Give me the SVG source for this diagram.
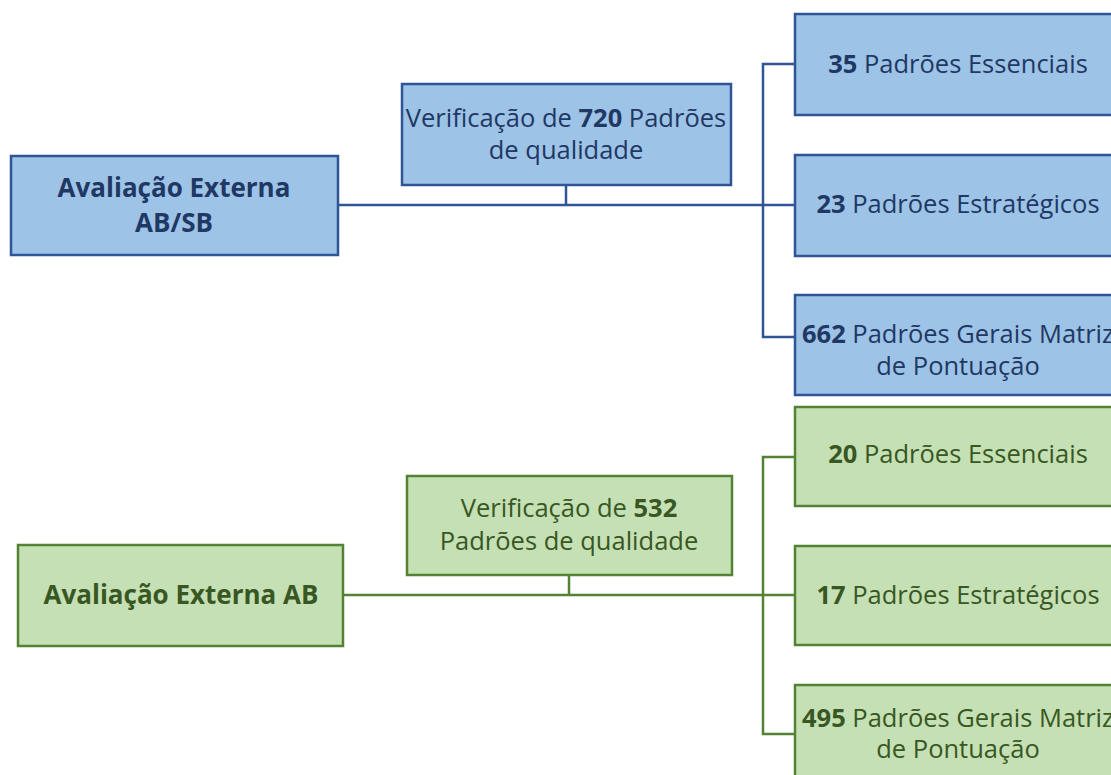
<svg xmlns="http://www.w3.org/2000/svg" width="1111" height="775" viewBox="0 0 1111 775">
<style>
text{font-family:"Open Sans","Liberation Sans",sans-serif;text-anchor:middle;font-size:25.5px}
.b rect{fill:#9dc3e6;stroke:#2f5597;stroke-width:2.5}
.g rect{fill:#c5e0b4;stroke:#548235;stroke-width:2.5}
.b text{fill:#1f3864}
.g text{fill:#385723}
.bold{font-weight:bold}
.main{font-size:26px;font-weight:bold}
.cb{fill:none;stroke:#2f5597;stroke-width:2.5}
.cg{fill:none;stroke:#548235;stroke-width:2.5}
</style>
<rect width="1111" height="775" fill="#fff"/>
<g id="connectors">
<path class="cb" d="M338 205H763M566 185V205M795 64H763V337H795M763 205H795"/>
<path class="cg" d="M343 595H763M569 575V595M795 457H763V734H795M763 595H795"/>
</g>
<g id="n1" class="b"><rect x="11" y="156" width="327" height="99"/>
<text class="main" x="174" y="197">Avaliação Externa</text><text class="main" x="174" y="232">AB/SB</text></g>
<g id="n2" class="b"><rect x="402" y="84" width="329" height="101"/>
<text x="566" y="127">Verificação de <tspan class="bold">720</tspan> Padrões</text><text x="566" y="159">de qualidade</text></g>
<g id="n3" class="b"><rect x="795" y="14" width="328" height="101"/>
<text x="958" y="73"><tspan class="bold">35</tspan> Padrões Essenciais</text></g>
<g id="n4" class="b"><rect x="795" y="155" width="328" height="101"/>
<text x="958" y="213"><tspan class="bold">23</tspan> Padrões Estratégicos</text></g>
<g id="n5" class="b"><rect x="795" y="295" width="328" height="100"/>
<text x="958" y="343"><tspan class="bold">662</tspan> Padrões Gerais Matriz</text><text x="958" y="375">de Pontuação</text></g>
<g id="n6" class="g"><rect x="18" y="545" width="325" height="101"/>
<text class="main" x="181" y="604">Avaliação Externa AB</text></g>
<g id="n7" class="g"><rect x="407" y="476" width="325" height="99"/>
<text x="569" y="517">Verificação de <tspan class="bold">532</tspan></text><text x="569" y="550">Padrões de qualidade</text></g>
<g id="n8" class="g"><rect x="795" y="407" width="328" height="99"/>
<text x="958" y="463"><tspan class="bold">20</tspan> Padrões Essenciais</text></g>
<g id="n9" class="g"><rect x="795" y="546" width="328" height="99"/>
<text x="958" y="604"><tspan class="bold">17</tspan> Padrões Estratégicos</text></g>
<g id="n10" class="g"><rect x="795" y="685" width="328" height="100"/>
<text x="958" y="727"><tspan class="bold">495</tspan> Padrões Gerais Matriz</text><text x="958" y="758">de Pontuação</text></g>
</svg>
